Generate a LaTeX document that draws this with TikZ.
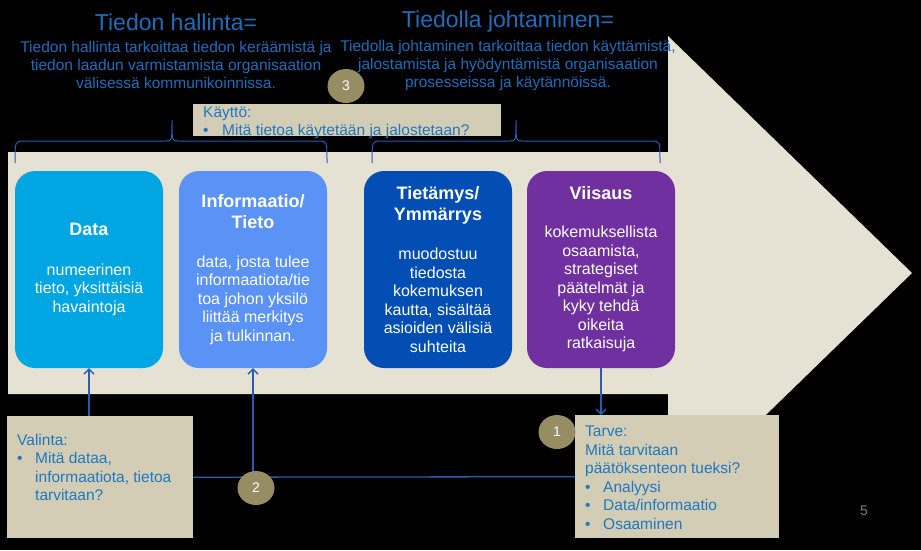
\documentclass[tikz,border=0pt]{standalone}
\usepackage{fontspec}
\setmainfont{Liberation Sans}
\usetikzlibrary{shapes.geometric,arrows.meta}
\definecolor{sand}{RGB}{230,226,211}
\definecolor{notefill}{RGB}{211,205,182}
\definecolor{olive}{RGB}{150,141,98}
\definecolor{headblue}{RGB}{31,109,186}
\definecolor{noteblue}{RGB}{31,120,192}
\definecolor{linkblue}{RGB}{42,92,182}
\definecolor{datacol}{RGB}{0,166,226}
\definecolor{infocol}{RGB}{90,146,245}
\definecolor{tietcol}{RGB}{2,78,180}
\definecolor{viiscol}{RGB}{112,48,160}
\newcommand{\hd}[1]{{\fontsize{18}{21}\selectfont\bfseries #1}}
\newcommand{\bul}{\makebox[18pt][l]{•}}
\begin{document}
\begin{tikzpicture}[x=1pt,y=-1pt,
  >={Straight Barb[length=5pt,width=10pt]},
  stage/.style={rounded corners=20pt,minimum width=148pt,minimum height=197pt,
    text=white,align=center,font=\fontsize{16}{18.5}\selectfont},
  notebox/.style={fill=notefill,anchor=north west,inner sep=0pt},
  notetext/.style={text=noteblue,align=left,inner sep=0pt,anchor=north west,
    font=\fontsize{15.5}{18.5}\selectfont},
  num/.style={ellipse,fill=olive,text=white,minimum width=37pt,
    minimum height=34pt,font=\fontsize{14}{14}\selectfont},
  link/.style={draw=linkblue,line width=1.3pt},
  head/.style={text=headblue,font=\fontsize{23}{26}\selectfont},
  lead/.style={text=headblue,align=center,font=\fontsize{15.5}{18}\selectfont}]
  % background and the big arrow
  \fill[black] (0,0) rectangle (921,550);
  \fill[sand] (8,152) -- (668,152) -- (668,36) -- (912,273)
     -- (668,510) -- (668,394) -- (8,394) -- cycle;
  % titles
  \node[head] (hallinta) at (176,22) {Tiedon hallinta=};
  \node[lead] (hallintatxt) at (176,65) {Tiedon hallinta tarkoittaa tiedon keräämistä ja\\
    tiedon laadun varmistamista organisaation\\ välisessä kommunikoinnissa.};
  \node[head] (johtaminen) at (508,22) {Tiedolla johtaminen=};
  \node[lead] (johtaminentxt) at (508,65) {Tiedolla johtaminen tarkoittaa tiedon käyttämistä,\\
    jalostamista ja hyödyntämistä organisaation\\ prosesseissa ja käytännöissä.};
  % braces
  \draw[link,line width=1pt] (15,163) .. controls (15,141) .. (24,141) -- (166,141)
     .. controls (172,141) .. (172,120) .. controls (172,141) .. (178,141)
     -- (318,141) .. controls (327,141) .. (327,163);
  \draw[link,line width=1pt] (372,163) .. controls (372,141) .. (381,141) -- (510,141)
     .. controls (516,141) .. (516,120) .. controls (516,141) .. (522,141)
     -- (651,141) .. controls (660,141) .. (660,163);
  % stages
  \node[stage,fill=datacol] (data) at (89,269.5) {\hd{Data}\\[21pt]
    numeerinen\\ tieto, yksittäisiä\\ havaintoja};
  \node[stage,fill=infocol] (info) at (253,269.5) {\hd{Informaatio/}\\[2.5pt]\hd{Tieto}\\[20pt]
    data, josta tulee\\ informaatiota/tie\\ toa johon yksilö\\ liittää merkitys\\ ja tulkinnan.};
  \node[stage,fill=tietcol] (tietamys) at (438,269.5) {\hd{Tietämys/}\\[2.5pt]\hd{Ymmärrys}\\[21pt]
    muodostuu\\ tiedosta\\ kokemuksen\\ kautta, sisältää\\ asioiden välisiä\\ suhteita};
  \node[stage,fill=viiscol] (viisaus) at (601,269.5) {\hd{Viisaus}\\[19.5pt]
    kokemuksellista\\ osaamista,\\ strategiset\\ päätelmät ja\\ kyky tehdä\\ oikeita\\ ratkaisuja};
  % notes
  \node[notebox,minimum width=308pt,minimum height=32pt] (kaytto) at (193,104) {};
  \node[notetext,font=\fontsize{15.5}{17.5}\selectfont] (kayttotxt)
    at ([xshift=10pt,yshift=-3pt]kaytto.north west)
    {Käyttö:\\ \makebox[19pt][l]{•}Mitä tietoa käytetään ja jalostetaan?};
  \node[notebox,minimum width=186pt,minimum height=122pt] (valinta) at (7,416) {};
  \node[notetext] (valintatxt) at ([xshift=10pt,yshift=-18pt]valinta.north west)
    {Valinta:\\ \bul Mitä dataa,\\ \hspace*{18pt}informaatiota, tietoa\\ \hspace*{18pt}tarvitaan?};
  \node[notebox,minimum width=204pt,minimum height=123pt] (tarve) at (575,415) {};
  \node[notetext] (tarvetxt) at ([xshift=10pt,yshift=-11pt]tarve.north west)
    {Tarve:\\ Mitä tarvitaan\\ päätöksenteon tueksi?\\ \bul Analyysi\\
     \bul Data/informaatio\\ \bul Osaaminen};
  % connectors
  \draw[link,->] (data.south |- valinta.north) -- (data.south);
  \draw[link] (valinta.east) -- (tarve.west);
  \draw[link,->] (info.south |- valinta.east) -- (info.south);
  \draw[link,->] (viisaus.south) -- (viisaus.south |- tarve.north);
  % numbers
  \node[num] (n1) at (557,432) {1};
  \node[num] (n2) at (256,488) {2};
  \node[num] (n3) at (346,86) {3};
  \node[text=gray,font=\fontsize{14}{14}\selectfont] (page) at (864,511) {5};
\end{tikzpicture}
\end{document}
